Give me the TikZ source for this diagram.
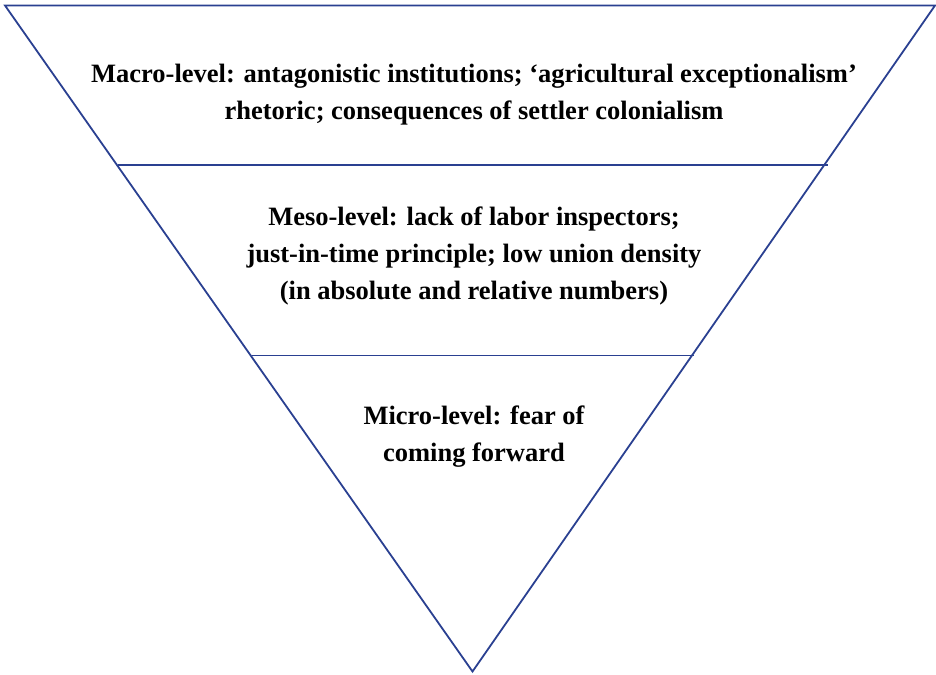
\documentclass[tikz,border=0pt]{standalone}
\usepackage{fontspec}
\setmainfont{Liberation Serif}
\definecolor{tri}{RGB}{42,64,145}
\begin{document}
\begin{tikzpicture}[x=1pt,y=-1pt,
  edge/.style={draw=tri,line width=1.8pt},
  lvl/.style={align=center,font=\fontsize{26.5}{37}\selectfont\bfseries,inner sep=0pt,text=black}]
\useasboundingbox (0,0) rectangle (936,674);
\coordinate (tl) at (5,5.5);
\coordinate (tr) at (935,5.5);
\coordinate (ap) at (472.5,671.5);
\coordinate (a1) at (117.5,165);
\coordinate (b1) at (827.5,165);
\coordinate (a2) at (251.5,355.5);
\coordinate (b2) at (694,355.5);
\draw[edge,line join=miter] (tl) -- (tr) -- (ap) -- cycle;
\draw[edge] (a1) -- (b1);
\draw[edge] (a2) -- (b2);
\node[lvl] (macro) at (474,95) {Macro-level: antagonistic institutions; ‘agricultural exceptionalism’\\rhetoric; consequences of settler colonialism};
\node[lvl] (meso) at (474,256) {Meso-level: lack of labor inspectors;\\just-in-time principle; low union density\\(in absolute and relative numbers)};
\node[lvl] (micro) at (474,437) {Micro-level: fear of\\coming forward};
\end{tikzpicture}
\end{document}
